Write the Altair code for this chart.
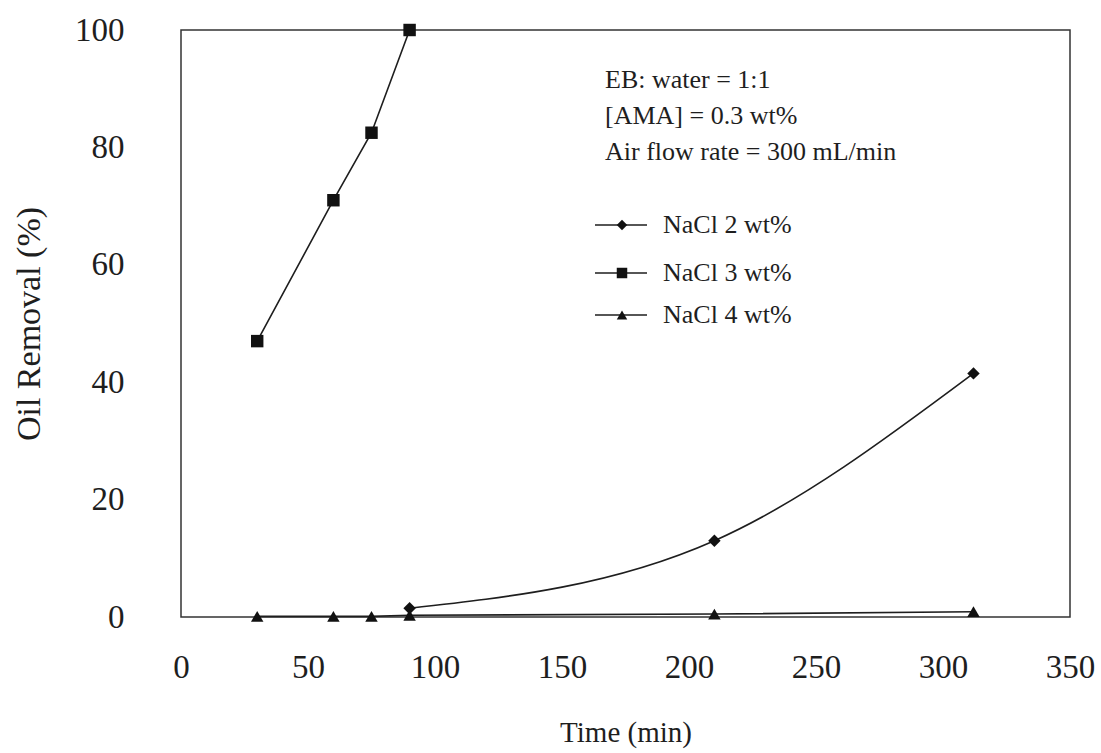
import altair as alt
import pandas as pd

# ---- data ----
series_names = ["NaCl 2 wt%", "NaCl 3 wt%", "NaCl 4 wt%"]

t_nacl2 = [90, 210, 312]
v_nacl2 = [1.5, 13.0, 41.5]

t_nacl3 = [30, 60, 75, 90]
v_nacl3 = [47.0, 71.0, 82.5, 100.0]

t_nacl4 = [30, 60, 75, 90, 210, 312]
v_nacl4 = [0.1, 0.1, 0.1, 0.3, 0.5, 0.9]

x_ticks = [0, 50, 100, 150, 200, 250, 300, 350]
y_ticks = [0, 20, 40, 60, 80, 100]

notes = ["EB: water = 1:1", "[AMA] = 0.3 wt%", "Air flow rate = 300 mL/min"]
shapes = ["diamond", "square", "triangle-up"]

rows = []
for name, ts, vs in zip(series_names, [t_nacl2, t_nacl3, t_nacl4], [v_nacl2, v_nacl3, v_nacl4]):
    for t, v in zip(ts, vs):
        rows.append({"series": name, "time": t, "removal": v})
df = pd.DataFrame(rows)

FONT = "Liberation Serif"
INK = "#1e1e1e"

x_enc = alt.X("time:Q", scale=alt.Scale(domain=[0, 350], nice=False, zero=False),
              axis=alt.Axis(values=x_ticks, title="Time (min)", domain=False, ticks=False,
                            grid=False, labelPadding=34, titlePadding=34,
                            labelFontSize=33, titleFontSize=29, labelFlush=False))
y_enc = alt.Y("removal:Q", scale=alt.Scale(domain=[0, 100], nice=False),
              axis=alt.Axis(values=y_ticks, title="Oil Removal (%)", domain=False, ticks=False,
                            grid=False, labelPadding=57, titlePadding=28,
                            labelFontSize=33, titleFontSize=34))

base = alt.Chart(df)

curved = base.transform_filter(alt.datum.series == series_names[0]).mark_line(
    interpolate="monotone", color=INK, strokeWidth=1.6).encode(
    x=x_enc, y=y_enc, detail="series:N")

straight = base.transform_filter(alt.datum.series != series_names[0]).mark_line(
    color=INK, strokeWidth=1.6).encode(
    x="time:Q", y="removal:Q", detail="series:N")

points = base.mark_point(filled=True, color="#111", opacity=1, size=155).encode(
    x="time:Q", y="removal:Q",
    shape=alt.Shape("series:N", scale=alt.Scale(domain=series_names, range=shapes), legend=None))

one = pd.DataFrame({"a": [0]})

note_text = alt.Chart(one).mark_text(
    align="left", baseline="alphabetic", font=FONT, fontSize=26, lineHeight=36, color=INK
).encode(x=alt.value(424), y=alt.value(58), text=alt.value(notes))

legend_layers = []
row_y = [195, 243, 285]
for name, shp, yy in zip(series_names, shapes, row_y):
    legend_layers.append(alt.Chart(one).mark_rule(color=INK, strokeWidth=1.6).encode(
        x=alt.value(414), x2=alt.value(466), y=alt.value(yy)))
    legend_layers.append(alt.Chart(one).mark_point(filled=True, color="#111", opacity=1, size=110, shape=shp).encode(
        x=alt.value(441), y=alt.value(yy)))
    legend_layers.append(alt.Chart(one).mark_text(
        align="left", baseline="middle", font=FONT, fontSize=26, color=INK).encode(
        x=alt.value(482), y=alt.value(yy), text=alt.value(name)))

chart = alt.layer(curved, straight, points, note_text, *legend_layers).properties(
    width=889, height=587,
    autosize=alt.AutoSizeParams(type="none"),
    padding={"left": 181, "top": 30, "right": 31, "bottom": 136},
    background="white",
).configure_view(
    stroke="#333", strokeWidth=1.5
).configure_axis(
    labelFont=FONT, titleFont=FONT, labelColor=INK, titleColor=INK,
    titleFontWeight="normal"
)

chart.save("out.html", embed_options={"renderer": "svg", "actions": False})
